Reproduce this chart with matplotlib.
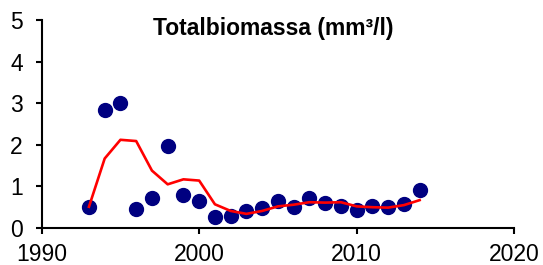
import numpy as np
import matplotlib.pyplot as plt

plt.rcParams['font.family'] = ['Liberation Sans', 'DejaVu Sans']

years = list(range(1993, 2015))
biomass = [0.51, 2.84, 3.0, 0.45, 0.72, 1.96, 0.79, 0.64, 0.27, 0.28, 0.41,
           0.49, 0.64, 0.51, 0.73, 0.61, 0.54, 0.44, 0.52, 0.51, 0.57, 0.91]
trend = [0.51, 1.67, 2.12, 2.09, 1.38, 1.05, 1.17, 1.14, 0.57, 0.41, 0.34,
         0.41, 0.52, 0.56, 0.62, 0.61, 0.62, 0.52, 0.50, 0.49, 0.55, 0.67]

fig = plt.figure(figsize=(5.43, 2.65), dpi=100)
ax = fig.add_axes([0.0768, 0.1396, 0.870, 0.785])

ax.plot(years, trend, '-', color='#ff0000', lw=1.9, zorder=3)
ax.plot(years, biomass, 'o', color='#000080', ms=10, zorder=2)

ax.set_xlim(1990, 2020)
ax.set_ylim(0, 5)
ax.set_xticks([1990, 2000, 2010, 2020])
ax.set_yticks([0, 1, 2, 3, 4, 5])
ax.spines['top'].set_visible(False)
ax.spines['right'].set_visible(False)
ax.spines['left'].set_linewidth(1.5)
ax.spines['bottom'].set_linewidth(1.5)
ax.tick_params(labelsize=16.5, width=1.5, length=4.5, direction='out')
ax.tick_params(axis='x', pad=6)
ax.tick_params(axis='y', pad=9)

ax.text(0.49, 1.015, 'Totalbiomassa (mm³/l)', transform=ax.transAxes,
        ha='center', va='top', fontsize=16.5, fontweight='bold')

fig.savefig('out.png', dpi=100)
